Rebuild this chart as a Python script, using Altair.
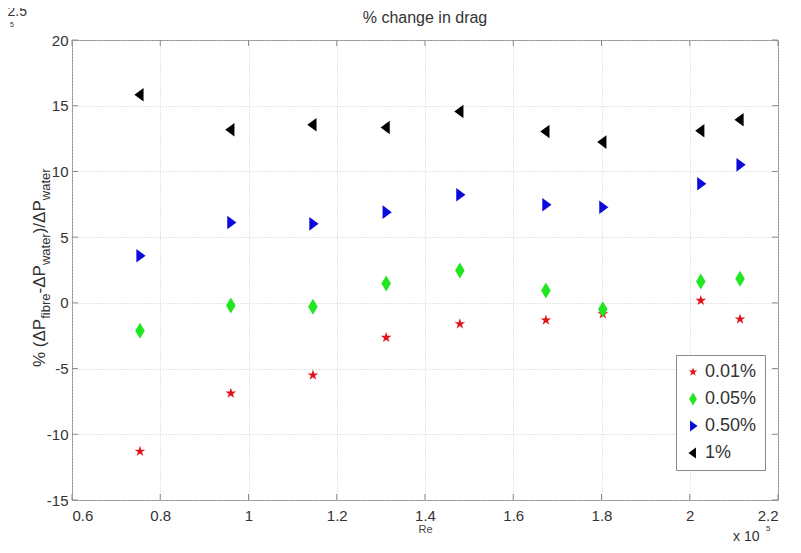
import altair as alt
import pandas as pd

# ---- data (Re in units of 1e5, % change in drag) ----
re_vals = [0.754, 0.960, 1.146, 1.312, 1.479, 1.674, 1.803, 2.025, 2.114]
series = ["0.01%", "0.05%", "0.50%", "1%"]
c001 = [-11.3, -6.88, -5.5, -2.64, -1.6, -1.32, -0.84, 0.18, -1.24]
c005 = [-2.13, -0.2, -0.3, 1.47, 2.46, 0.94, -0.48, 1.62, 1.83]
c050 = [3.58, 6.11, 6.01, 6.9, 8.22, 7.46, 7.28, 9.06, 10.5]
c1 = [15.83, 13.17, 13.55, 13.34, 14.56, 13.04, 12.23, 13.09, 13.93]

x_ticks = [0.6, 0.8, 1.0, 1.2, 1.4, 1.6, 1.8, 2.0, 2.2]
y_ticks = [-15, -10, -5, 0, 5, 10, 15, 20]

colors = ["#e0141a", "#22e622", "#0a0adc", "#000000"]
shapes = [
    "M0,-0.7L0.157,-0.216L0.666,-0.216L0.254,0.083L0.412,0.566L0,0.267L-0.412,0.566L-0.254,0.083L-0.666,-0.216L-0.157,-0.216Z",
    "M0,-1L0.6,0L0,1L-0.6,0Z",
    "M-0.45,-0.85L0.7,0L-0.45,0.85Z",
    "M0.45,-0.85L-0.7,0L0.45,0.85Z",
]

rows = []
for name, vals in zip(series, [c001, c005, c050, c1]):
    for r, v in zip(re_vals, vals):
        rows.append({"Re": r, "val": v, "series": name})
df = pd.DataFrame(rows)

W, H = 706, 460
FONT = "Liberation Sans"

xscale = alt.Scale(domain=[0.6, 2.2], nice=False, zero=False)
yscale = alt.Scale(domain=[-15, 20], nice=False, zero=False)

points = alt.Chart(df).mark_point(filled=True, size=256, opacity=1, strokeWidth=0).encode(
    x=alt.X("Re:Q", scale=xscale,
            axis=alt.Axis(values=x_ticks, format="~g", title="Re", grid=True,
                          labelFontSize=15, labelPadding=8, titleFontSize=11,
                          titlePadding=0, titleColor="#444", labelColor="#333",
                          domain=False, ticks=False, gridColor="#cdcdcd",
                          gridDash=[1, 2], labelFont=FONT, titleFont=FONT,
                          titleFontWeight="normal")),
    y=alt.Y("val:Q", scale=yscale,
            axis=alt.Axis(values=y_ticks, title=None, grid=True,
                          labelExpr="datum.value + ''",
                          labelFontSize=15, labelPadding=4, labelColor="#333",
                          domain=False, ticks=False, gridColor="#cdcdcd",
                          gridDash=[1, 2], labelFont=FONT)),
    color=alt.Color("series:N", scale=alt.Scale(domain=series, range=colors),
                    legend=alt.Legend(title=None)),
    shape=alt.Shape("series:N", scale=alt.Scale(domain=series, range=shapes),
                    legend=alt.Legend(title=None)),
)

xt = pd.DataFrame({"Re": x_ticks})
yt = pd.DataFrame({"val": y_ticks})
tick_col = "#8a8a8a"
xb = alt.Chart(xt).mark_rule(color=tick_col).encode(x="Re:Q", y=alt.value(H), y2=alt.value(H - 6))
xtp = alt.Chart(xt).mark_rule(color=tick_col).encode(x="Re:Q", y=alt.value(0), y2=alt.value(6))
yl = alt.Chart(yt).mark_rule(color=tick_col).encode(y="val:Q", x=alt.value(0), x2=alt.value(6))
yr = alt.Chart(yt).mark_rule(color=tick_col).encode(y="val:Q", x=alt.value(W), x2=alt.value(W - 6))

# y-axis title built from pieces (main text + subscripts), rotated
lab_text = ["% (\u0394P", "fibre", "-\u0394P", "water", ")/\u0394P", "water"]
lab_sub = [False, True, False, True, False, True]
lab_y = [327, 278.8, 253.5, 225.1, 193.3, 160.2]

texts = []
for t, sub, py in zip(lab_text, lab_sub, lab_y):
    texts.append(
        alt.Chart(pd.DataFrame({"t": [t]})).mark_text(
            angle=270, align="left", baseline="alphabetic", font=FONT,
            fontSize=13 if sub else 17, color="#333"
        ).encode(text="t:N", x=alt.value(-22 if sub else -27), y=alt.value(py))
    )

title_text = "% change in drag"
extra_text = ["x 10", "5", "2.5", "5"]
extra = [
    alt.Chart(pd.DataFrame({"t": [title_text]})).mark_text(
        align="center", baseline="middle", font=FONT, fontSize=16, color="#333"
    ).encode(text="t:N", x=alt.value(353), y=alt.value(-22)),
    alt.Chart(pd.DataFrame({"t": [extra_text[0]]})).mark_text(
        align="left", baseline="alphabetic", font=FONT, fontSize=14, color="#333"
    ).encode(text="t:N", x=alt.value(661), y=alt.value(501)),
    alt.Chart(pd.DataFrame({"t": [extra_text[1]]})).mark_text(
        align="left", baseline="alphabetic", font=FONT, fontSize=8, color="#333"
    ).encode(text="t:N", x=alt.value(694), y=alt.value(491)),
    alt.Chart(pd.DataFrame({"t": [extra_text[2]]})).mark_text(
        align="right", baseline="alphabetic", font=FONT, fontSize=14, color="#333"
    ).encode(text="t:N", x=alt.value(-45), y=alt.value(-24)),
    alt.Chart(pd.DataFrame({"t": [extra_text[3]]})).mark_text(
        align="left", baseline="alphabetic", font=FONT, fontSize=7, color="#333"
    ).encode(text="t:N", x=alt.value(-62), y=alt.value(-13)),
]

chart = alt.layer(xb, xtp, yl, yr, points, *texts, *extra).properties(
    width=W, height=H,
    autosize=alt.AutoSizeParams(type="none"),
    padding={"left": 64, "top": 32, "right": 15, "bottom": 45},
).configure_view(
    stroke="#8a8a8a", strokeWidth=1
).configure_legend(
    orient="none", legendX=604, legendY=315, strokeColor="#8a8a8a",
    fillColor="white", padding=8, rowPadding=9, labelFontSize=18,
    labelFont=FONT, labelColor="#333", symbolSize=170, symbolStrokeWidth=0,
    labelOffset=3, cornerRadius=0
)

chart.save("out.html", embed_options={"renderer": "svg", "actions": False})
